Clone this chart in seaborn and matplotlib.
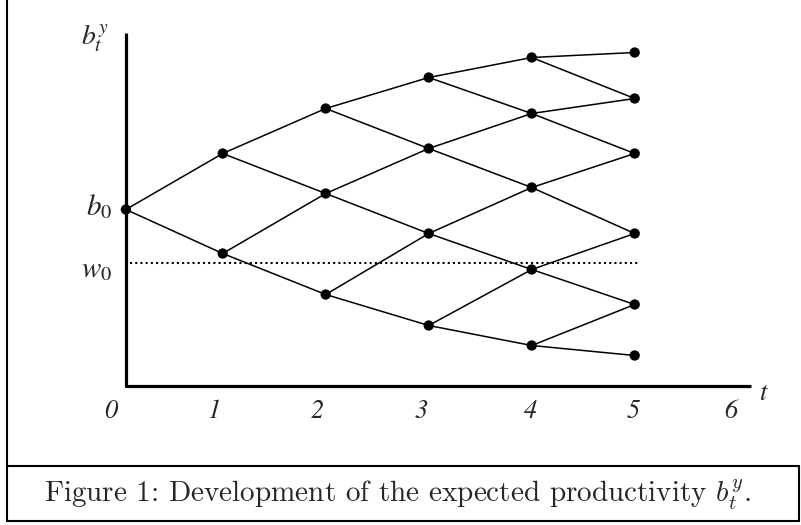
import matplotlib
matplotlib.use('Agg')
import matplotlib.pyplot as plt
import pandas as pd
import seaborn as sns

# Lattice of expected productivity b_t^y
periods = [0, 1, 2, 3, 4, 5]
node_x = [0.06, 1, 2, 3, 4, 5]   # where each period's nodes sit (t=0 sits on the axis)
levels = [
    [17.6],
    [23.2, 13.2],
    [27.7, 19.2, 9.1],
    [30.8, 23.7, 15.2, 6.0],
    [32.8, 27.2, 19.8, 11.6, 4.0],
    [33.3, 28.7, 23.2, 15.2, 8.1, 3.0],
]
w0 = 12.3
tick_labels = ['0', '1', '2', '3', '4', '5', '6']
tick_pos = [-0.09, 0.92, 1.92, 2.93, 3.99, 4.99, 5.93]
caption = 'Figure 1: Development of the expected productivity $b_t^y$.'

sns.set_theme(style='white')
plt.rcParams['font.family'] = ['STIXGeneral', 'DejaVu Serif']
plt.rcParams['mathtext.fontset'] = 'stix'

# nodes and edges (node k at t joins k and k+1 at t+1)
nodes = pd.DataFrame([(node_x[t], v) for t in periods for v in levels[t]], columns=['t', 'b'])
edges = []
for t in periods[:-1]:
    for k, v in enumerate(levels[t]):
        for j in (k, k + 1):
            eid = f'{t}-{k}-{j}'
            edges.append((eid, node_x[t], v))
            edges.append((eid, node_x[t + 1], levels[t + 1][j]))
edges = pd.DataFrame(edges, columns=['edge', 't', 'b'])

fig = plt.figure(figsize=(8.01, 5.25), dpi=100)
ax = fig.add_axes([0, 0, 1, 1])
ax.set_xlim(-119.7 / 103, (801 - 119.7) / 103)
ax.set_ylim(-13.95, 38.55)
ax.axis('off')

sns.lineplot(data=edges, x='t', y='b', units='edge', estimator=None,
             color='black', lw=1.1, ax=ax, legend=False)
sns.scatterplot(data=nodes, x='t', y='b', color='black', s=55,
                edgecolor='none', ax=ax, zorder=5, legend=False)

# threshold w0
ax.plot([0.1, 5.04], [w0, w0], color='black', lw=1.5,
        linestyle=(0, (1, 1.5)), dash_capstyle='butt')

# axes
ax.plot([0.06, 0.06], [35.25, -0.1], color='black', lw=2.3, solid_capstyle='butt')
ax.plot([0.06 - 0.012, 6.13], [0, 0], color='black', lw=2.3, solid_capstyle='butt')

# labels
ax.text(-0.11, 34.05, r'$b_{\mathit{t}}^{\mathit{y}}$', fontsize=20, ha='right', va='baseline')
ax.text(-0.07, 17.05, r'$b_{\mathit{0}}$', fontsize=21, ha='right', va='baseline')
ax.text(-0.07, 10.85, r'$w_{\mathit{0}}$', fontsize=21, ha='right', va='baseline')
ax.text(6.25, -0.8, 't', fontsize=19, style='italic', ha='center', va='center')
for x, lab in zip(tick_pos, tick_labels):
    ax.text(x, -2.65, lab, fontsize=19, style='italic', ha='center', va='center')

# frame around figure + caption box
lw_box = 1.5
ax.plot([-1.097, -1.097], [38.6, -13.55], color='black', lw=lw_box)
ax.plot([-1.097, 6.595], [-8.05, -8.05], color='black', lw=lw_box)
ax.plot([-1.097, 6.595], [-13.55, -13.55], color='black', lw=lw_box)
ax.plot([6.595, 6.595], [-8.05, -13.55], color='black', lw=lw_box)

ax.text(2.7, -10.95, caption, fontsize=21, ha='center', va='center',
        family='cmr10', math_fontfamily='cm')

fig.savefig('out.png', dpi=100)
